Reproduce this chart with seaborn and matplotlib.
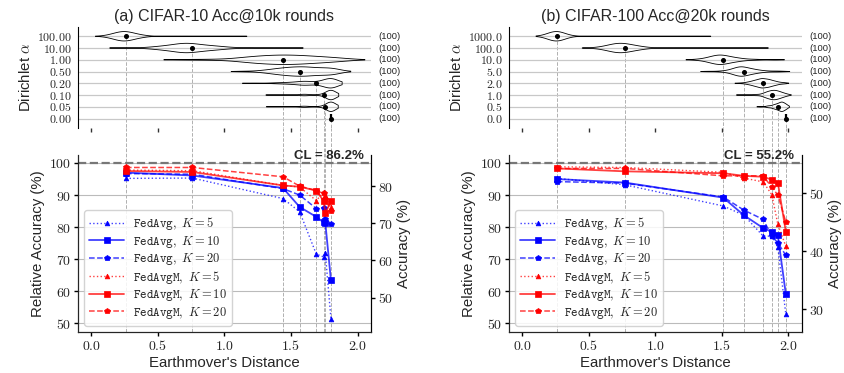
import numpy as np
import pandas as pd
import matplotlib
matplotlib.use("Agg")
import matplotlib.pyplot as plt
import matplotlib.transforms as mtransforms
from matplotlib.ticker import MultipleLocator, FormatStrFormatter
import seaborn as sns

# ---------------- (a) CIFAR-10 ----------------
title_a = "(a) CIFAR-10 Acc@10k rounds"
alpha_a = ['100.00', '10.00', '1.00', '0.50', '0.20', '0.10', '0.05', '0.00']
# EMD values of the clients (value, how many of the 100 clients) per alpha
emd_vals_a = [
    [0.10, 0.15, 0.20, 0.25, 0.30, 0.35, 0.40, 0.60, 1.10],
    [0.25, 0.45, 0.55, 0.65, 0.72, 0.80, 0.90, 1.00, 1.20, 1.48],
    [0.70, 0.90, 1.10, 1.20, 1.30, 1.40, 1.50, 1.60, 1.70, 1.80, 1.90],
    [1.15, 1.30, 1.40, 1.50, 1.60, 1.70, 1.80, 1.85],
    [1.22, 1.40, 1.50, 1.60, 1.70, 1.80],
    [1.37, 1.50, 1.60, 1.70, 1.80],
    [1.37, 1.50, 1.60, 1.70, 1.80],
    [1.80],
]
emd_counts_a = [
    [3, 10, 22, 28, 20, 10, 5, 1, 1],
    [1, 5, 12, 18, 22, 17, 13, 7, 4, 1],
    [2, 3, 6, 10, 13, 15, 15, 13, 10, 8, 5],
    [2, 6, 14, 20, 22, 16, 16, 4],
    [2, 5, 8, 20, 10, 55],
    [2, 3, 12, 5, 78],
    [2, 2, 10, 4, 82],
    [100],
]
emd_mean_a = [0.26, 0.76, 1.44, 1.565, 1.69, 1.745, 1.758, 1.80]
cl_a = 86.2
fedavg_k5_a = [95.2, 95.3, 88.9, 84.8, 71.6, 70.7, 71.9, 51.5]
fedavg_k10_a = [97.0, 96.1, 92.2, 86.3, 83.2, 81.5, 81.3, 63.5]
fedavg_k20_a = [96.7, 96.5, 92.0, 90.0, 85.8, 86.0, 82.5, 81.1]
fedavgm_k5_a = [97.8, 97.6, 93.0, 92.5, 88.3, 90.8, 90.0, 86.4]
fedavgm_k10_a = [97.5, 97.2, 93.0, 92.6, 91.4, 88.2, 84.3, 88.1]
fedavgm_k20_a = [98.6, 98.6, 95.7, 92.8, 91.4, 90.5, 88.9, 85.1]

# ---------------- (b) CIFAR-100 ----------------
title_b = "(b) CIFAR-100 Acc@20k rounds"
alpha_b = ['1000.0', '100.0', '10.0', '5.0', '2.0', '1.0', '0.5', '0.0']
emd_vals_b = [
    [0.18, 0.22, 0.26, 0.30, 0.34, 0.80, 1.34],
    [0.55, 0.62, 0.68, 0.73, 0.78, 0.84, 0.90, 1.10, 1.40, 1.75],
    [1.30, 1.38, 1.44, 1.49, 1.54, 1.60, 1.66, 1.75, 1.90],
    [1.40, 1.50, 1.57, 1.62, 1.66, 1.71, 1.76, 1.82, 1.90, 1.95],
    [1.64, 1.70, 1.75, 1.80, 1.85, 1.90, 1.96],
    [1.65, 1.75, 1.82, 1.86, 1.90, 1.94, 1.98],
    [1.79, 1.85, 1.89, 1.92, 1.95, 1.98],
    [1.98],
]
emd_counts_b = [
    [8, 25, 38, 20, 7, 1, 1],
    [2, 8, 18, 26, 20, 12, 8, 3, 2, 1],
    [3, 10, 20, 24, 18, 12, 6, 4, 3],
    [2, 4, 12, 22, 24, 16, 10, 5, 3, 2],
    [2, 8, 18, 30, 24, 13, 5],
    [3, 5, 13, 24, 29, 18, 8],
    [3, 8, 14, 20, 35, 20],
    [100],
]
emd_mean_b = [0.26, 0.77, 1.51, 1.665, 1.81, 1.875, 1.92, 1.98]
cl_b = 55.2
fedavg_k5_b = [95.2, 93.2, 86.6, 83.7, 77.2, 77.2, 73.8, 52.8]
fedavg_k10_b = [95.0, 93.9, 89.2, 83.7, 79.7, 78.5, 77.4, 59.1]
fedavg_k20_b = [94.2, 93.7, 89.4, 85.3, 82.4, 77.2, 75.1, 71.2]
fedavgm_k5_b = [98.8, 98.6, 97.1, 95.3, 94.1, 90.1, 80.9, 74.0]
fedavgm_k10_b = [98.3, 97.4, 96.8, 96.0, 95.7, 94.8, 93.9, 78.6]
fedavgm_k20_b = [98.3, 98.3, 96.0, 96.0, 96.0, 92.4, 90.0, 81.6]

sns.set_style('white')
plt.rcParams['font.family'] = ['Liberation Sans', 'DejaVu Sans']
plt.rcParams['mathtext.fontset'] = 'cm'

method_rgb = {'FedAvg': (0.0, 0.0, 1.0), 'FedAvgM': (1.0, 0.0, 0.0)}
k_style = {5: dict(ls=':', marker='^', ms=3.4, lw=1.0),
           10: dict(ls='-', marker='s', ms=4.4, lw=1.3),
           20: dict(ls='--', marker='p', ms=3.8, lw=1.1)}
grid_col = '#bbbbbb'
vline_col = '#b0b0b0'


def draw_panel(ax_t, ax_b, title, alphas, vals, counts, means, cl, series):
    # ---- violins of client EMD per alpha ----
    parts = []
    for lab, v, c in zip(alphas, vals, counts):
        if len(v) > 1:
            parts.append(pd.DataFrame({'alpha': lab, 'emd': np.repeat(v, c)}))
    df = pd.concat(parts, ignore_index=True)
    sns.violinplot(data=df, x='emd', y='alpha', order=alphas, orient='h',
                   inner=None, fill=False, color='black', linewidth=0.6,
                   density_norm='width', width=0.8, cut=1.5, ax=ax_t)
    pos = np.arange(len(alphas))
    for p, v in zip(pos, vals):
        if len(v) == 1:
            ax_t.vlines(v[0], p - 0.35, p + 0.2, color='black', lw=1.6, zorder=4)
    ax_t.set_ylim(len(alphas) - 0.2, -0.8)
    ax_t.set_xlim(-0.1, 2.1)
    ax_t.vlines(means, pos, len(alphas) - 0.2, color=vline_col, ls='--', lw=0.7, zorder=0)
    ax_t.plot(means, pos, 'o', color='black', ms=2.6, zorder=5)
    for p in pos:
        ax_t.axhline(p, color='#c8c8c8', lw=0.9, zorder=0)
    ax_t.set_yticks(pos)
    ax_t.set_yticklabels(['$%s$' % a for a in alphas], fontsize=8.6)
    ax_t.set_xticks([0.0, 0.5, 1.0, 1.5, 2.0])
    ax_t.tick_params(axis='x', bottom=True, length=3, width=1, color='#333333',
                     labelbottom=False)
    ax_t.tick_params(axis='y', pad=1)
    ax_t.set_xlabel('')
    ax_t.set_ylabel(r'Dirichlet $\alpha$', fontsize=10.8, labelpad=3)
    for s in ['top', 'right', 'bottom']:
        ax_t.spines[s].set_visible(False)
    ax_t.spines['left'].set_color('black')
    ax_t.set_title(title, fontsize=11.5, pad=4)
    tr = mtransforms.blended_transform_factory(ax_t.transAxes, ax_t.transData)
    for p, c in zip(pos, counts):
        ax_t.text(1.025, p, '(%d)' % sum(c), transform=tr, fontsize=6.8,
                  ha='left', va='center', clip_on=False)

    # ---- relative accuracy vs mean EMD ----
    gap = ax_t.get_position().y0 - ax_b.get_position().y1
    ext = 1 + gap / ax_b.get_position().height
    for m in means:
        ax_b.axvline(m, ymin=0, ymax=ext, color=vline_col, ls='--', lw=0.7,
                     zorder=0, clip_on=False)
    for (meth, k), y in series:
        rgb = method_rgb[meth]
        st = k_style[k]
        sns.lineplot(x=means, y=y, ax=ax_b, errorbar=None, sort=False,
                     color=rgb + (0.75,), linestyle=st['ls'], lw=st['lw'],
                     marker=st['marker'], markersize=st['ms'],
                     markerfacecolor=rgb, markeredgecolor=rgb, markeredgewidth=0.5,
                     label=r'$\mathtt{%s},\ K=%d$' % (meth, k), zorder=3)
    ax_b.axhline(100, color='#777777', ls='--', lw=1.6, zorder=2)
    trb = mtransforms.blended_transform_factory(ax_b.transAxes, ax_b.transData)
    ax_b.text(0.975, 100.4, 'CL = %.1f%%' % cl, transform=trb, ha='right',
              va='bottom', fontsize=9.5, fontweight='bold')
    lo, hi = 47.3, 102.5
    ax_b.set_xlim(-0.1, 2.1)
    ax_b.set_ylim(lo, hi)
    ax_b.set_xticks([0.0, 0.5, 1.0, 1.5, 2.0])
    ax_b.xaxis.set_major_formatter(FormatStrFormatter('$%.1f$'))
    ax_b.yaxis.set_major_locator(MultipleLocator(10))
    ax_b.yaxis.set_major_formatter(FormatStrFormatter('$%d$'))
    ax_b.tick_params(labelsize=10, pad=2, bottom=True, left=True, length=3,
                     width=1, color='black')
    ax_b.yaxis.grid(True, color=grid_col, lw=0.8, zorder=0)
    ax_b.set_axisbelow(True)
    ax_b.set_xlabel("Earthmover's Distance", fontsize=10.8, labelpad=2)
    ax_b.set_ylabel('Relative Accuracy (%)', fontsize=10.8, labelpad=3)
    ax_b.spines['top'].set_visible(False)
    for s in ['left', 'bottom', 'right']:
        ax_b.spines[s].set_color('black')
    ax_b.legend(loc='lower left', fontsize=9, handlelength=2.8, handletextpad=0.7,
                labelspacing=0.12, borderpad=0.4, framealpha=0.85,
                edgecolor='#cccccc')

    ax2 = ax_b.twinx()
    ax2.set_ylim(lo * cl / 100, hi * cl / 100)
    ax2.yaxis.set_major_locator(MultipleLocator(10))
    ax2.yaxis.set_major_formatter(FormatStrFormatter('$%d$'))
    ax2.tick_params(labelsize=10, pad=2, right=True, length=3, width=1,
                    color='black')
    ax2.grid(False)
    ax2.set_ylabel('Accuracy (%)', fontsize=10.8, labelpad=3)
    ax2.spines['top'].set_visible(False)
    ax2.spines['right'].set_color('black')


fig = plt.figure(figsize=(8.44, 3.73), dpi=100)
lefts = [0.0924, 0.603]
width = 0.347
tops = [fig.add_axes([l, 0.657, width, 0.271]) for l in lefts]
bots = [fig.add_axes([l, 0.110, width, 0.4745]) for l in lefts]

series_a = [(('FedAvg', 5), fedavg_k5_a), (('FedAvg', 10), fedavg_k10_a),
            (('FedAvg', 20), fedavg_k20_a), (('FedAvgM', 5), fedavgm_k5_a),
            (('FedAvgM', 10), fedavgm_k10_a), (('FedAvgM', 20), fedavgm_k20_a)]
series_b = [(('FedAvg', 5), fedavg_k5_b), (('FedAvg', 10), fedavg_k10_b),
            (('FedAvg', 20), fedavg_k20_b), (('FedAvgM', 5), fedavgm_k5_b),
            (('FedAvgM', 10), fedavgm_k10_b), (('FedAvgM', 20), fedavgm_k20_b)]

draw_panel(tops[0], bots[0], title_a, alpha_a, emd_vals_a, emd_counts_a,
           emd_mean_a, cl_a, series_a)
draw_panel(tops[1], bots[1], title_b, alpha_b, emd_vals_b, emd_counts_b,
           emd_mean_b, cl_b, series_b)

fig.savefig('out.png', dpi=100)
